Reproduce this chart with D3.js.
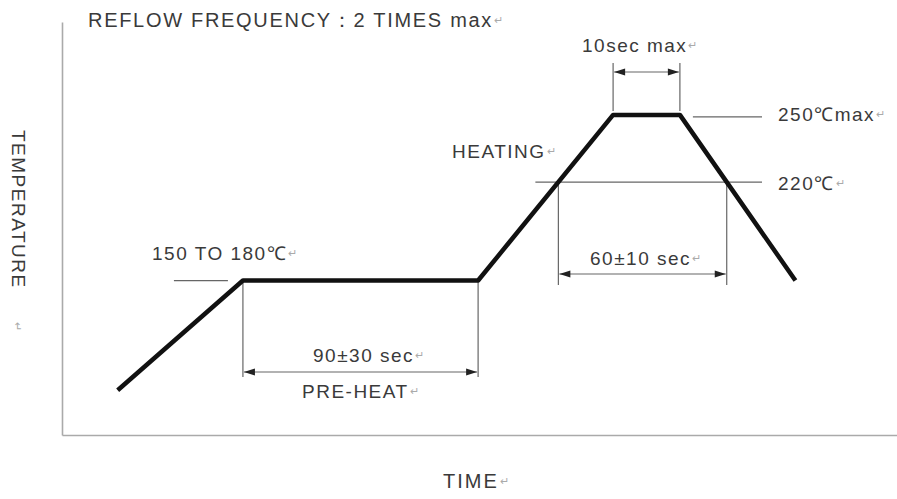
<!DOCTYPE html>
<html>
<head>
<meta charset="utf-8">
<script src="https://cdn.jsdelivr.net/npm/d3@7/dist/d3.min.js"></script>
<style>
  body { margin: 0; background: #fff; }
  svg text { font-family: "Liberation Sans", Arial, sans-serif; fill: #3a3a3a; letter-spacing: 1.5px; }
  .mark { fill: #aaa; font-size: 11px; letter-spacing: 0; }
</style>
</head>
<body>
<div class="svg-container"></div>
<script>
    'use strict';

    // schematic reflow profile (time units, degrees C)
    var profileTime = [20, 65, 149.5, 198, 222, 263.5];
    var profileTemp = [127, 176, 176, 250, 250, 176];

    var levelTemps = [250, 220];
    var levelLabels = ['250℃max', '220℃'];

    var titleText = 'REFLOW FREQUENCY：2 TIMES max';
    var xLabel = 'TIME';
    var yLabel = 'TEMPERATURE';
    var preheatLabel = 'PRE-HEAT';
    var heatingLabel = 'HEATING';
    var soakLabel = '150 TO 180℃';
    var spanLabels = ['90±30 sec', '60±10 sec', '10sec max'];

    var width = 897, height = 499;

    var svg = d3.select('.svg-container').append('svg')
        .attr('width', width)
        .attr('height', height);

    var x = d3.scaleLinear().domain([0, 300]).range([62, 897]);
    var y = d3.scaleLinear().domain([107, 291.5]).range([435, 22]);

    // axes without ticks
    svg.append('g')
        .attr('transform', 'translate(' + x(0) + ',0)')
        .call(d3.axisLeft(y).tickValues([]).tickSizeOuter(0))
        .select('.domain').attr('stroke', '#aaa').attr('stroke-width', 1.6);
    svg.append('g')
        .attr('transform', 'translate(0,' + y(107) + ')')
        .call(d3.axisBottom(x).tickValues([]).tickSizeOuter(0))
        .select('.domain').attr('stroke', '#aaa').attr('stroke-width', 1.6);

    var pts = profileTime.map(function(t, i){ return [t, profileTemp[i]]; });

    // time where a segment crosses a temperature
    function crossing(i, temp){
        var t = (temp - profileTemp[i]) / (profileTemp[i + 1] - profileTemp[i]);
        return profileTime[i] + t * (profileTime[i + 1] - profileTime[i]);
    }
    var up220 = crossing(2, levelTemps[1]);
    var down220 = crossing(4, levelTemps[1]);

    var ann = svg.append('g')
        .attr('stroke', '#666')
        .attr('stroke-width', 1.2)
        .attr('fill', 'none');

    function vline(t, y0, y1){
        ann.append('line')
            .attr('x1', x(t)).attr('x2', x(t))
            .attr('y1', y0).attr('y2', y1);
    }
    function arrowHead(px, yy, dir){
        svg.append('path')
            .attr('d', 'M' + px + ',' + yy + 'l' + (-dir * 11) + ',-3.5l0,7z')
            .attr('fill', '#222');
    }
    function dim(t0, t1, yy){
        ann.append('line')
            .attr('x1', x(t0) + 1).attr('x2', x(t1) - 1)
            .attr('y1', yy).attr('y2', yy);
        arrowHead(x(t0) + 1, yy, -1);
        arrowHead(x(t1) - 1, yy, 1);
    }

    // pre-heat span
    vline(profileTime[1], y(176), 377);
    vline(profileTime[2], y(176), 377);
    dim(profileTime[1], profileTime[2], 372);

    // 60 sec above 220
    vline(up220, y(220), 285);
    vline(down220, y(220), 285);
    dim(up220, down220, 274);

    // 10 sec at peak
    vline(profileTime[3], 63, y(250) - 4);
    vline(profileTime[4], 63, y(250) - 4);
    dim(profileTime[3], profileTime[4], 72);

    // level lines
    ann.append('line')
        .attr('x1', x(up220) - 23).attr('x2', 762)
        .attr('y1', y(220)).attr('y2', y(220));
    ann.append('line')
        .attr('x1', x(profileTime[4]) + 13).attr('x2', 762)
        .attr('y1', y(250) + 2).attr('y2', y(250) + 2);
    ann.append('line')
        .attr('x1', x(profileTime[1]) - 69).attr('x2', x(profileTime[1]) - 15)
        .attr('y1', y(176)).attr('y2', y(176));

    // profile
    svg.append('path')
        .datum(pts)
        .attr('d', d3.line().x(function(d){ return x(d[0]); }).y(function(d){ return y(d[1]); }))
        .attr('fill', 'none')
        .attr('stroke', '#111')
        .attr('stroke-width', 4.5)
        .attr('stroke-linejoin', 'round');

    function label(txt, px, py, size, spacing){
        var t = svg.append('text')
            .attr('x', px).attr('y', py)
            .style('font-size', (size || 19) + 'px');
        if (spacing) t.style('letter-spacing', spacing + 'px');
        t.append('tspan').text(txt);
        t.append('tspan').attr('class', 'mark').attr('dx', 1).attr('dy', -3).text('↵');
        return t;
    }

    label(titleText, 88, 27, 20, 1.7);
    label(levelLabels[0], 778, 121);
    label(levelLabels[1], 778, 190);
    label(heatingLabel, 452, 158);
    label(spanLabels[2], 582, 52);
    label(spanLabels[1], 590, 265);
    label(spanLabels[0], 313, 362);
    label(preheatLabel, 302, 398);
    label(soakLabel, 152, 260);
    label(xLabel, 443, 488, 20, 2);

    var yl = svg.append('text')
        .attr('transform', 'translate(12,130) rotate(90)')
        .style('font-size', '19px');
    yl.append('tspan').text(yLabel);
    svg.append('text')
        .attr('class', 'mark')
        .attr('transform', 'translate(14,322) rotate(90)')
        .text('↵');
</script>
</body>
</html>
